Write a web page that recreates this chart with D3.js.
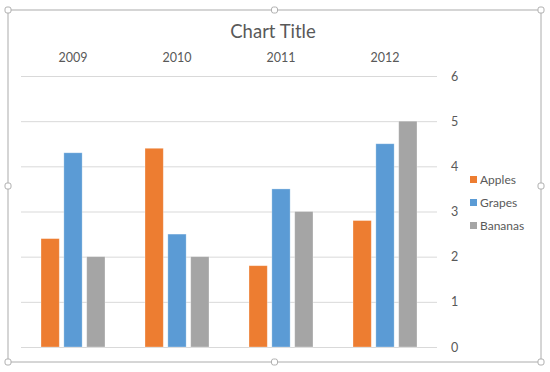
<!DOCTYPE html>
<html>
<head>
<meta charset="utf-8">
<script src="https://cdn.jsdelivr.net/npm/d3@7"></script>
<style>
  body { margin: 0; background: #fff; }
  text { font-family: Lato, "Open Sans", sans-serif; fill: #595959; }
</style>
</head>
<body>
<div id="chart"></div>
<script>
var years = ["2009", "2010", "2011", "2012"];
var seriesNames = ["Apples", "Grapes", "Bananas"];
var apples = [2.4, 4.4, 1.8, 2.8];
var grapes = [4.3, 2.5, 3.5, 4.5];
var bananas = [2, 2, 3, 5];
var valueTicks = [0, 1, 2, 3, 4, 5, 6];
var colors = ["#ED7D31", "#5B9BD5", "#A5A5A5"];

var svgWidth = 550;
var svgHeight = 372;

var svg = d3.select("#chart")
  .append("svg")
  .attr("width", svgWidth)
  .attr("height", svgHeight);

// chart frame with selection handles
var frame = { left: 8, top: 10, right: 541, bottom: 362 };
svg.append("rect")
  .attr("x", frame.left)
  .attr("y", frame.top)
  .attr("width", frame.right - frame.left)
  .attr("height", frame.bottom - frame.top)
  .attr("fill", "#fff")
  .attr("stroke", "#c8c8c8")
  .attr("stroke-width", 1.5);

var midX = (frame.left + frame.right) / 2;
var midY = (frame.top + frame.bottom) / 2;
var handles = [
  [frame.left, frame.top], [midX, frame.top], [frame.right, frame.top],
  [frame.left, midY], [frame.right, midY],
  [frame.left, frame.bottom], [midX, frame.bottom], [frame.right, frame.bottom]
];
svg.selectAll(".handle")
  .data(handles)
  .enter()
  .append("rect")
  .attr("class", "handle")
  .attr("x", d => d[0] - 3)
  .attr("y", d => d[1] - 3)
  .attr("width", 6)
  .attr("height", 6)
  .attr("rx", 2)
  .attr("fill", "#fff")
  .attr("stroke", "#b0b0b0");

var plot = { left: 21, right: 437, top: 76, bottom: 347 };

var chartGroup = svg.append("g");

var xScale = d3.scaleBand()
  .domain(years)
  .range([plot.left, plot.right]);

var innerScale = d3.scaleBand()
  .domain(seriesNames)
  .range([20, xScale.bandwidth() - 20])
  .paddingInner(0.2);

var yScale = d3.scaleLinear()
  .domain([0, 6])
  .range([plot.bottom, plot.top]);

// gridlines
chartGroup.selectAll(".grid")
  .data(valueTicks)
  .enter()
  .append("line")
  .attr("x1", plot.left)
  .attr("x2", plot.right)
  .attr("y1", d => yScale(d) + 0.5)
  .attr("y2", d => yScale(d) + 0.5)
  .attr("stroke", "#d9d9d9")
  .attr("stroke-width", 1);

// value axis on the right
var rightAxis = d3.axisRight(yScale)
  .tickValues(valueTicks)
  .tickFormat(d3.format("d"))
  .tickSize(0)
  .tickPadding(14);
var yAxis = chartGroup.append("g")
  .attr("transform", `translate(${plot.right}, 0)`)
  .call(rightAxis);
yAxis.select(".domain").remove();
yAxis.attr("font-family", null).attr("font-size", null);
yAxis.selectAll("text")
  .attr("font-size", 12.5);

// category axis on top
var topAxis = d3.axisTop(xScale)
  .tickSize(0)
  .tickPadding(14);
var xAxis = chartGroup.append("g")
  .attr("transform", `translate(0, ${plot.top})`)
  .call(topAxis);
xAxis.select(".domain").remove();
xAxis.attr("font-family", null).attr("font-size", null);
xAxis.selectAll("text")
  .attr("font-size", 12.5);

// bars
var table = years.map((y, i) => ({
  year: y,
  values: [apples[i], grapes[i], bananas[i]]
}));

var groups = chartGroup.selectAll(".cluster")
  .data(table)
  .enter()
  .append("g")
  .attr("transform", d => `translate(${xScale(d.year)}, 0)`);

groups.selectAll("rect")
  .data(d => d.values.map((v, j) => ({ name: seriesNames[j], value: v, color: colors[j] })))
  .enter()
  .append("rect")
  .attr("x", d => innerScale(d.name))
  .attr("y", d => yScale(d.value))
  .attr("width", innerScale.bandwidth())
  .attr("height", d => yScale(0) - yScale(d.value))
  .attr("fill", d => d.color)
  .attr("stroke", "#fff")
  .attr("stroke-opacity", 0.4)
  .attr("stroke-width", 0.75);

// title
svg.append("text")
  .attr("x", 273)
  .attr("y", 38)
  .attr("text-anchor", "middle")
  .attr("font-size", 18.5)
  .text("Chart Title");

// legend
var legend = svg.selectAll(".legend")
  .data(seriesNames)
  .enter()
  .append("g")
  .attr("transform", (d, i) => `translate(470, ${176 + i * 23})`);

legend.append("rect")
  .attr("width", 7)
  .attr("height", 7)
  .attr("fill", (d, i) => colors[i]);

legend.append("text")
  .attr("x", 10)
  .attr("y", 8)
  .attr("font-size", 12)
  .text(d => d);
</script>
</body>
</html>
